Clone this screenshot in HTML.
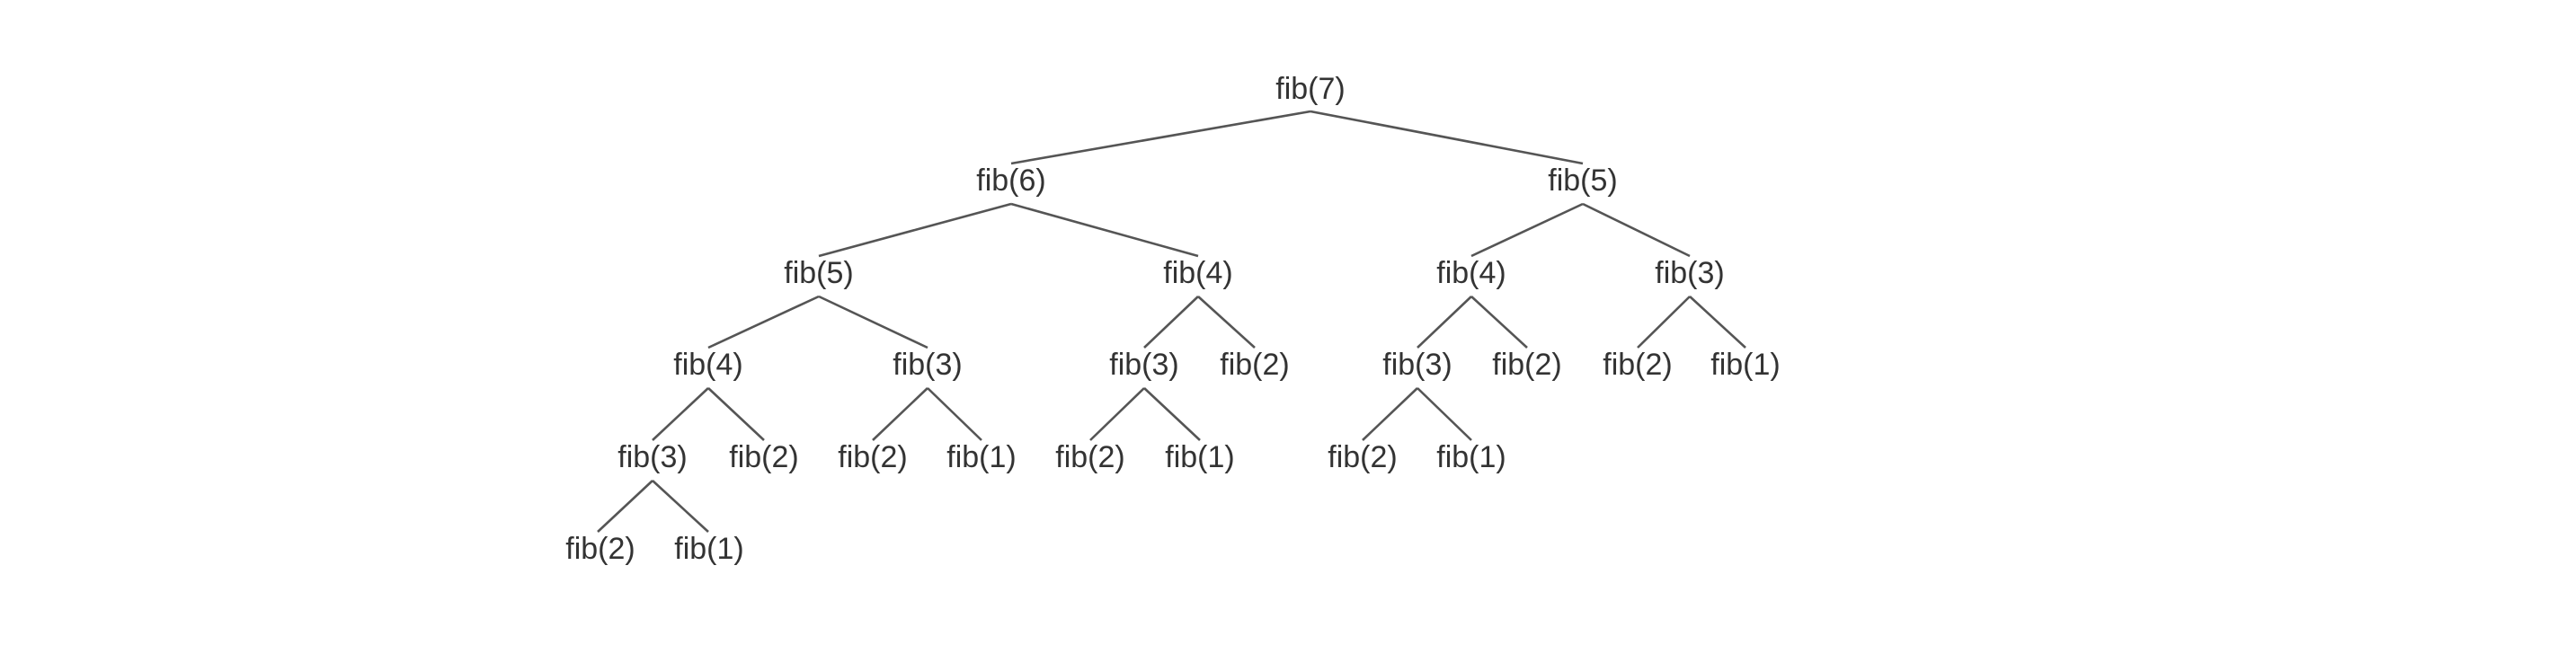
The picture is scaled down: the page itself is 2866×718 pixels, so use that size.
<!DOCTYPE html>
<html><head><meta charset="utf-8"><style>
html,body{margin:0;padding:0;background:#fff;}
svg{display:block;}
text{font-family:"Liberation Sans",Arial,sans-serif;font-size:34px;fill:#333;text-anchor:middle;}
line{stroke:#555;stroke-width:2.6;}
</style></head><body>
<svg width="2866" height="718" viewBox="0 0 2866 718">
<g id="t">
<text x="1458" y="110">fib(7)</text>
<text x="1125" y="212">fib(6)</text>
<text x="1761" y="212">fib(5)</text>
<text x="911" y="315">fib(5)</text>
<text x="1333" y="315">fib(4)</text>
<text x="1637" y="315">fib(4)</text>
<text x="1880" y="315">fib(3)</text>
<text x="788" y="417">fib(4)</text>
<text x="1032" y="417">fib(3)</text>
<text x="1273" y="417">fib(3)</text>
<text x="1396" y="417">fib(2)</text>
<text x="1577" y="417">fib(3)</text>
<text x="1699" y="417">fib(2)</text>
<text x="1822" y="417">fib(2)</text>
<text x="1942" y="417">fib(1)</text>
<text x="726" y="520">fib(3)</text>
<text x="850" y="520">fib(2)</text>
<text x="971" y="520">fib(2)</text>
<text x="1092" y="520">fib(1)</text>
<text x="1213" y="520">fib(2)</text>
<text x="1335" y="520">fib(1)</text>
<text x="1516" y="520">fib(2)</text>
<text x="1637" y="520">fib(1)</text>
<text x="668" y="622">fib(2)</text>
<text x="789" y="622">fib(1)</text>
</g>
<g>
<line x1="1458" y1="124" x2="1125" y2="182"/>
<line x1="1458" y1="124" x2="1761" y2="182"/>
<line x1="1125" y1="227" x2="911" y2="285"/>
<line x1="1125" y1="227" x2="1333" y2="285"/>
<line x1="1761" y1="227" x2="1637" y2="285"/>
<line x1="1761" y1="227" x2="1880" y2="285"/>
<line x1="911" y1="330" x2="788" y2="387"/>
<line x1="911" y1="330" x2="1032" y2="387"/>
<line x1="1333" y1="330" x2="1273" y2="387"/>
<line x1="1333" y1="330" x2="1396" y2="387"/>
<line x1="1637" y1="330" x2="1577" y2="387"/>
<line x1="1637" y1="330" x2="1699" y2="387"/>
<line x1="1880" y1="330" x2="1822" y2="387"/>
<line x1="1880" y1="330" x2="1942" y2="387"/>
<line x1="788" y1="432" x2="726" y2="490"/>
<line x1="788" y1="432" x2="850" y2="490"/>
<line x1="1032" y1="432" x2="971" y2="490"/>
<line x1="1032" y1="432" x2="1092" y2="490"/>
<line x1="1273" y1="432" x2="1213" y2="490"/>
<line x1="1273" y1="432" x2="1335" y2="490"/>
<line x1="1577" y1="432" x2="1516" y2="490"/>
<line x1="1577" y1="432" x2="1637" y2="490"/>
<line x1="726" y1="535" x2="665" y2="592"/>
<line x1="726" y1="535" x2="788" y2="592"/>
</g>
</svg>
</body></html>
